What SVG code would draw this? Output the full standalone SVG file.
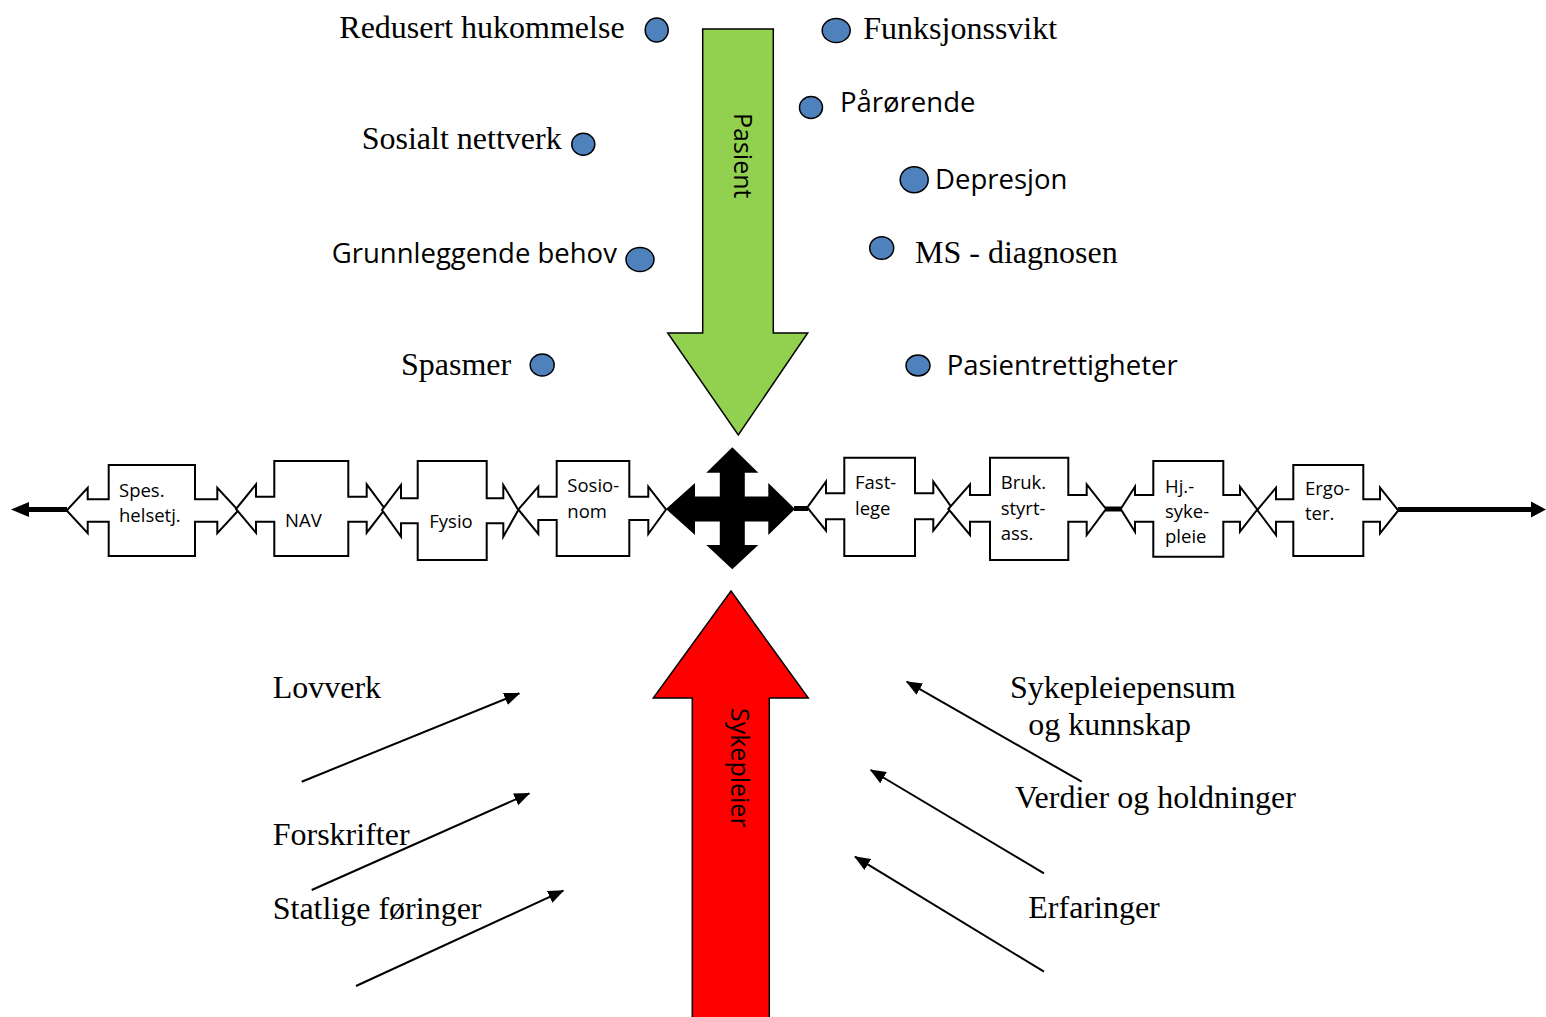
<svg xmlns="http://www.w3.org/2000/svg" width="1546" height="1017" viewBox="0 0 1546 1017">
<style>
.serif{font-family:"Liberation Serif","Times New Roman",serif;font-size:32px;fill:#000}
.sans{font-family:"Open Sans","Liberation Sans",sans-serif;font-size:27.5px;fill:#000}
.small{font-family:"Open Sans","Liberation Sans",sans-serif;font-size:18.5px;fill:#000}
.big{font-family:"Open Sans","Liberation Sans",sans-serif;font-size:25px;fill:#000}
.callout{fill:#fff;stroke:#000;stroke-width:2;stroke-linejoin:miter}
.dot{fill:#4F81BD;stroke:#000;stroke-width:1.5}
.thick{stroke:#000;stroke-width:5;fill:none}
.conn{stroke:#000;stroke-width:2;fill:none;marker-end:url(#ah)}
</style>
<defs>
<marker id="ah" markerUnits="userSpaceOnUse" markerWidth="16" markerHeight="14" refX="15" refY="6.5" orient="auto">
<path d="M0,0 L16,6.5 L0,13 Z" fill="#000"/>
</marker>
</defs>
<rect width="1546" height="1017" fill="#fff"/>

<g id="pasient-arrow">
<path d="M702.7,29 L773.3,29 L773.3,333 L807.7,333 L738.3,435 L667.7,333 L702.7,333 Z" fill="#92D050" stroke="#000" stroke-width="1.5"/>
<text class="big" transform="translate(733.5,113) rotate(90)">Pasient</text>
</g>

<g id="sykepleier-arrow">
<path d="M731,591 L808.3,698 L769.3,698 L769.3,1022 L692.3,1022 L692.3,698 L653.3,698 Z" fill="#FF0000" stroke="#000" stroke-width="1.5"/>
<text class="big" transform="translate(731,708) rotate(90)">Sykepleier</text>
</g>

<g id="factors-top">
<g id="f-redusert"><ellipse class="dot" cx="656.7" cy="30" rx="11.5" ry="12"/><text class="serif" x="339.3" y="37.5">Redusert hukommelse</text></g>
<g id="f-funksjon"><ellipse class="dot" cx="836.2" cy="30.5" rx="14" ry="12"/><text class="serif" x="863.3" y="38.5">Funksjonssvikt</text></g>
<g id="f-parorende"><ellipse class="dot" cx="811" cy="107.5" rx="11.5" ry="11"/><text class="sans" x="840" y="111.5">Pårørende</text></g>
<g id="f-sosialt"><ellipse class="dot" cx="583.3" cy="144.2" rx="11.5" ry="11"/><text class="serif" x="361.7" y="149">Sosialt nettverk</text></g>
<g id="f-depresjon"><ellipse class="dot" cx="914.2" cy="179.7" rx="14" ry="13"/><text class="sans" x="935" y="188.5">Depresjon</text></g>
<g id="f-grunn"><ellipse class="dot" cx="640" cy="259.5" rx="14" ry="12"/><text class="sans" x="331.7" y="263.3">Grunnleggende behov</text></g>
<g id="f-ms"><ellipse class="dot" cx="881.7" cy="248" rx="12" ry="11.3"/><text class="serif" x="915" y="263.3">MS - diagnosen</text></g>
<g id="f-spasmer"><ellipse class="dot" cx="542.2" cy="365" rx="12" ry="11"/><text class="serif" x="401" y="375">Spasmer</text></g>
<g id="f-rettigheter"><ellipse class="dot" cx="918" cy="365.5" rx="12" ry="10.5"/><text class="sans" x="946.7" y="375">Pasientrettigheter</text></g>
</g>

<g id="connectors">
<line class="thick" x1="26" y1="509.5" x2="67" y2="509.5"/>
<path d="M11,509.5 L29,502 L29,517 Z" fill="#000"/>
<line class="thick" x1="794" y1="508.5" x2="808" y2="508.5"/>
<line class="thick" x1="1105" y1="509" x2="1121" y2="509"/>
<line class="thick" x1="1398" y1="509.5" x2="1533" y2="509.5"/>
<path d="M1546,509.5 L1531,501.5 L1531,517.5 Z" fill="#000"/>
<line class="conn" x1="301.7" y1="781.7" x2="519.3" y2="693.3"/>
<line class="conn" x1="311.7" y1="890" x2="529.3" y2="793.3"/>
<line class="conn" x1="356" y1="986" x2="563.3" y2="890.7"/>
<line class="conn" x1="1081.7" y1="781.7" x2="906.7" y2="681.7"/>
<line class="conn" x1="1044" y1="873.3" x2="870.7" y2="770"/>
<line class="conn" x1="1044" y1="971.7" x2="855" y2="856.7"/>
</g>

<g id="cross">
<path d="M732.3,447.3 L758.3,472.7 L744.8,472.7 L744.8,496.5 L768.3,496.5 L768.3,483 L795,509 L768.3,535 L768.3,521.5 L744.8,521.5 L744.8,545 L758.3,545 L732.3,569.3 L706.3,545 L719.8,545 L719.8,521.5 L695,521.5 L695,535 L666,509 L695,483 L695,496.5 L719.8,496.5 L719.8,472.7 L706.3,472.7 Z" fill="#000"/>
</g>

<g id="spes">
<path class="callout" d="M108.7,465 L195,465 L195,499.3 L217.3,499.3 L217.3,487.7 L238.3,510.5 L217.3,533.3 L217.3,521.7 L195,521.7 L195,556 L108.7,556 L108.7,521.7 L87.7,521.7 L87.7,533.3 L66.7,510.5 L87.7,487.7 L87.7,499.3 L108.7,499.3 Z"/>
<text class="small" x="119" y="497">Spes.</text><text class="small" x="119" y="522">helsetj.</text>
</g>
<g id="nav">
<path class="callout" d="M274.3,461 L348.3,461 L348.3,496.7 L366.7,496.7 L366.7,484.3 L385,509 L366.7,532.7 L366.7,521.7 L348.3,521.7 L348.3,556 L274.3,556 L274.3,521.7 L256,521.7 L256,532.7 L236,509 L256,484.3 L256,496.7 L274.3,496.7 Z"/>
<text class="small" x="285" y="527.3">NAV</text>
</g>
<g id="fysio">
<path class="callout" d="M417.7,461 L486.7,461 L486.7,498.3 L503.3,498.3 L503.3,485 L518.3,510 L503.3,536.7 L503.3,523.3 L486.7,523.3 L486.7,560 L417.7,560 L417.7,523.3 L401,523.3 L401,536.7 L382,510 L401,485 L401,498.3 L417.7,498.3 Z"/>
<text class="small" x="429.3" y="528.3">Fysio</text>
</g>
<g id="sosionom">
<path class="callout" d="M556.7,461 L629.3,461 L629.3,496.7 L648.3,496.7 L648.3,486.7 L666,509.5 L648.3,534 L648.3,520 L629.3,520 L629.3,556 L556.7,556 L556.7,520 L538.3,520 L538.3,534 L518.3,509.5 L538.3,486.7 L538.3,496.7 L556.7,496.7 Z"/>
<text class="small" x="567.3" y="492.3">Sosio-</text><text class="small" x="567.3" y="518.3">nom</text>
</g>
<g id="fastlege">
<path class="callout" d="M844.3,457.7 L915,457.7 L915,493.3 L933.3,493.3 L933.3,481.7 L951.7,507.5 L933.3,530.7 L933.3,519.3 L915,519.3 L915,556 L844.3,556 L844.3,519.3 L826,519.3 L826,530.7 L807.3,507.5 L826,481.7 L826,493.3 L844.3,493.3 Z"/>
<text class="small" x="855" y="489.3">Fast-</text><text class="small" x="855" y="515">lege</text>
</g>
<g id="bruk">
<path class="callout" d="M990,457.7 L1068.3,457.7 L1068.3,495 L1086.7,495 L1086.7,484.3 L1106,509 L1086.7,535 L1086.7,521.7 L1068.3,521.7 L1068.3,560 L990,560 L990,521.7 L970,521.7 L970,535 L948.3,509 L970,484.3 L970,495 L990,495 Z"/>
<text class="small" x="1000.7" y="489.3">Bruk.</text><text class="small" x="1000.7" y="514.5">styrt-</text><text class="small" x="1000.7" y="539.5">ass.</text>
</g>
<g id="hjsykepleie">
<path class="callout" d="M1153.3,461 L1223.3,461 L1223.3,495 L1240,495 L1240,486.7 L1257.3,509.5 L1240,531.7 L1240,521.7 L1223.3,521.7 L1223.3,556.7 L1153.3,556.7 L1153.3,521.7 L1135,521.7 L1135,531.7 L1120.7,509 L1135,486.7 L1135,495 L1153.3,495 Z"/>
<text class="small" x="1165" y="493">Hj.-</text><text class="small" x="1165" y="518">syke-</text><text class="small" x="1165" y="543">pleie</text>
</g>
<g id="ergoter">
<path class="callout" d="M1293.3,465 L1363.3,465 L1363.3,499.3 L1380,499.3 L1380,487.7 L1398.3,510.5 L1380,533.3 L1380,521.7 L1363.3,521.7 L1363.3,556 L1293.3,556 L1293.3,521.7 L1276,521.7 L1276,535 L1257.3,510 L1276,487.7 L1276,499.3 L1293.3,499.3 Z"/>
<text class="small" x="1305" y="495">Ergo-</text><text class="small" x="1305" y="520">ter.</text>
</g>

<g id="factors-bottom">
<text class="serif" x="272.7" y="698.3">Lovverk</text>
<text class="serif" x="272.7" y="845">Forskrifter</text>
<text class="serif" x="272.7" y="919.3">Statlige føringer</text>
<text class="serif" x="1010" y="698.3">Sykepleiepensum</text>
<text class="serif" x="1028.3" y="735">og kunnskap</text>
<text class="serif" x="1015" y="808.3">Verdier og holdninger</text>
<text class="serif" x="1028.3" y="918.3">Erfaringer</text>
</g>
</svg>
